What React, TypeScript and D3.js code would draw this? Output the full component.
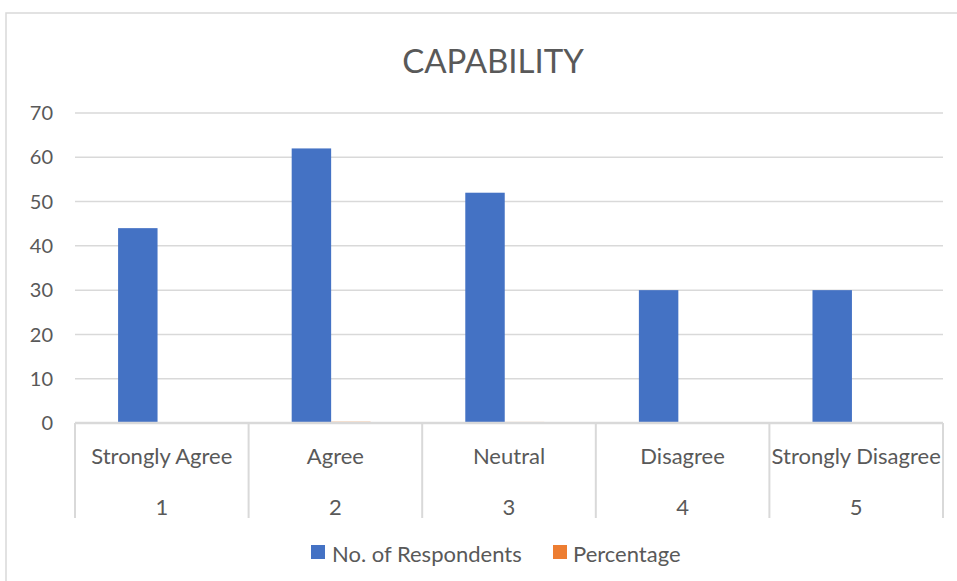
import React from "react";
import * as d3 from "d3";

const categories = ["Strongly Agree", "Agree", "Neutral", "Disagree", "Strongly Disagree"];
const categoryNumbers = ["1", "2", "3", "4", "5"];
const seriesNames = ["No. of Respondents", "Percentage"];
const respondents = [44, 62, 52, 30, 30];
const percentage = [0.2, 0.28, 0.24, 0.14, 0.14];
const yTicks = [0, 10, 20, 30, 40, 50, 60, 70];
const colors = ["#4472c4", "#ed7d31"];

const W = 957;
const H = 581;
const FONT = "Lato, 'Open Sans', sans-serif";
const TEXT = "#595959";
const GRID = "#d9d9d9";

export default function App() {
  const left = 75;
  const right = 943;
  const top = 113;
  const bottom = 423;

  const x0 = d3.scaleBand<string>().domain(categories).range([left, right]).padding(0);
  const x1 = d3
    .scaleBand<string>()
    .domain(seriesNames)
    .range([0, x0.bandwidth()])
    .paddingInner(0)
    .paddingOuter(1.2)
    .align(0.455);
  const y = d3.scaleLinear().domain([0, 70]).range([bottom, top]);

  const seriesValues = [respondents, percentage];
  const sepBottom = 518;

  return (
    <svg
      width={W}
      height={H}
      style={{ position: "absolute", left: 0, top: 0, background: "#fff" }}
      fontFamily={FONT}
    >
      <rect x={6} y={13} width={W} height={H} fill="#fff" stroke={GRID} strokeWidth={1.5} />
      <text x={493} y={73} textAnchor="middle" fontSize={33} fill={TEXT}>
        CAPABILITY
      </text>
      {yTicks.map((t) => (
        <g key={t}>
          {t !== 0 && (
            <line x1={left} x2={right} y1={y(t)} y2={y(t)} stroke={GRID} strokeWidth={1.5} />
          )}
          <text x={53} y={y(t)} dy="0.36em" textAnchor="end" fontSize={20} fill={TEXT}>
            {t}
          </text>
        </g>
      ))}
      {seriesValues.map((vals, si) =>
        categories.map((c, ci) => (
          <rect
            key={`${si}-${ci}`}
            x={(x0(c) as number) + (x1(seriesNames[si]) as number)}
            y={y(vals[ci])}
            width={x1.bandwidth()}
            height={bottom - y(vals[ci])}
            fill={colors[si]}
          />
        ))
      )}
      <line x1={left} x2={right} y1={bottom} y2={bottom} stroke={GRID} strokeWidth={2.5} />
      {[...categories.map((c) => x0(c) as number), right].map((xv, i) => (
        <line key={i} x1={xv} x2={xv} y1={bottom} y2={sepBottom} stroke={GRID} strokeWidth={2} />
      ))}
      {categories.map((c, i) => (
        <g key={c}>
          <text
            x={(x0(c) as number) + x0.bandwidth() / 2}
            y={464}
            textAnchor="middle"
            fontSize={22}
            fill={TEXT}
          >
            {c}
          </text>
          <text
            x={(x0(c) as number) + x0.bandwidth() / 2}
            y={515}
            textAnchor="middle"
            fontSize={22}
            fill={TEXT}
          >
            {categoryNumbers[i]}
          </text>
        </g>
      ))}
      <g>
        <rect x={311} y={545} width={14} height={14} fill={colors[0]} />
        <text x={332} y={562} fontSize={22} fill={TEXT}>
          {seriesNames[0]}
        </text>
        <rect x={553} y={545} width={14} height={14} fill={colors[1]} />
        <text x={573} y={562} fontSize={22} fill={TEXT}>
          {seriesNames[1]}
        </text>
      </g>
    </svg>
  );
}
